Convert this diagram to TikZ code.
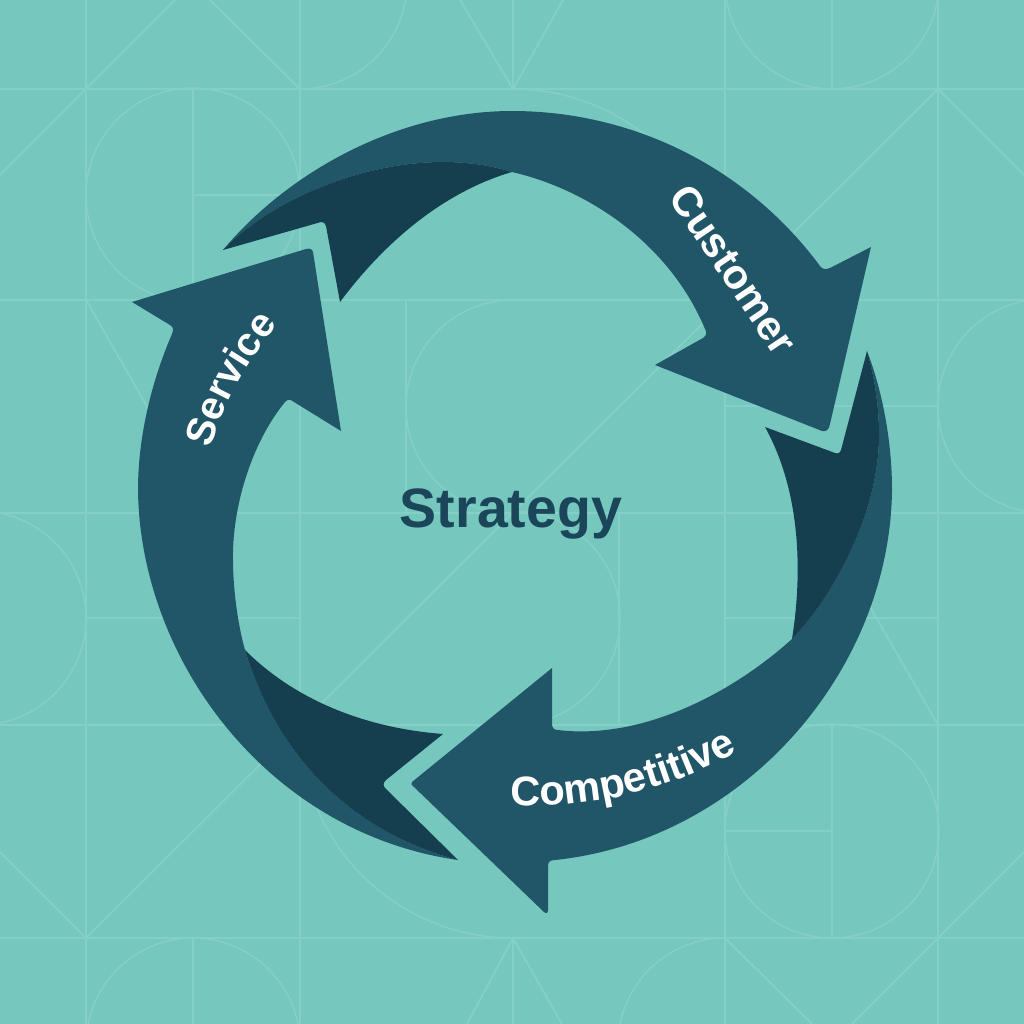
\documentclass[tikz,border=0pt]{standalone}
\usepackage{fontspec}
\setmainfont{Liberation Sans}
\usetikzlibrary{decorations.text}
\definecolor{bgc}{HTML}{76C8BF}
\definecolor{gridc}{HTML}{84CFC6}
\definecolor{midc}{HTML}{205668}
\definecolor{darkc}{HTML}{153E4F}
\definecolor{titlec}{HTML}{1B4558}
\tikzset{
  gl/.style={draw=gridc,line width=1.9pt},
  ga/.style={draw=gridc,line width=1.5pt},
  midpart/.style={fill=midc,draw=none},
  darkpart/.style={fill=darkc,draw=none}
}
\newcommand{\curvelabel}[3]{%
  \path[decorate,decoration={text along path,text color=white,text align={center},
     text={|\fontsize{#1}{#1}\selectfont\bfseries|#2}}] #3;}
\begin{document}
\begin{tikzpicture}[x=1pt,y=-1pt]
\useasboundingbox (0,0) rectangle (1024,1024);
\fill[bgc] (0,0) rectangle (1024,1024);
\begin{scope}
\clip (0,0) rectangle (1024,1024);
% grid
\foreach \p in {89,300,513,725,938} {\draw[gl] (0,\p) -- (1024,\p);}
\foreach \p in {86,300,725,938} {\draw[gl] (\p,0) -- (\p,1024);}
\draw[gl] (513,0) -- (513,89) (513,938) -- (513,1024);
\draw[gl] (193,89) -- (193,300) (193,195) -- (300,195);
\draw[gl] (406,300) -- (406,513);
\draw[gl] (725,406) -- (938,406);
\draw[gl] (86,618) -- (300,618);
\draw[gl] (619,513) -- (619,725) (725,618) -- (938,618);
\draw[gl] (832,0) -- (832,89) (832,725) -- (832,938) (725,831) -- (832,831);
\draw[gl] (193,938) -- (193,1024);
% diagonals
\draw[gl] (938,89) -- (86,938);
\draw[gl] (86,89) -- (0,175) (86,89) -- (177,-2) (208,-2) -- (300,89);
\draw[gl] (460,0) -- (513,89) -- (563,0);
\draw[gl] (938,89) -- (1024,175);
\draw[gl] (86,300) -- (208,513);
\draw[gl] (938,725) -- (816,513);
\draw[gl] (0,852) -- (86,938);
\draw[gl] (1024,852) -- (852,1024);
\draw[gl] (725,938) -- (812,1024);
\draw[gl] (467,1024) -- (513,938) -- (562,1024);
% circles and arcs
\draw[ga] (832,-18) circle[radius=107];
\draw[ga] (193,195) circle[radius=107];
\draw[ga] (832,831) circle[radius=107];
\draw[ga] (193,1045) circle[radius=107];
\draw[ga] (1045,406) circle[radius=107];
\draw[ga] (300,89) arc[start angle=90,end angle=0,radius=107];
\draw[ga] (513,89) arc[start angle=-90,end angle=0,radius=213];
\draw[ga] (513,300) arc[start angle=270,end angle=90,radius=107];
\draw[ga] (-21,511) arc[start angle=-90,end angle=90,radius=107];
\draw[ga] (513,511) arc[start angle=-90,end angle=90,radius=107];
\draw[ga] (300,725) arc[start angle=180,end angle=90,radius=213];
\draw[ga] (725,938) arc[start angle=-90,end angle=-180,radius=107];
\end{scope}
% Customer arrow
\fill[midpart] (223,250) .. controls (290,170) and (400,111) .. (512,111) .. controls (630,111) and (745,165) .. (820,266)
  .. controls (822,269) and (825,270) .. (830,268) -- (871,247) -- (830,424) .. controls (829,430) and (826,432) .. (822,431) -- (655,365) -- (703,338) .. controls (707,335) and (707,332) .. (705,329)
  .. controls (670,245) and (590,190) .. (512,172) .. controls (410,140) and (280,190) .. (223,250) -- cycle;
\fill[darkpart] (223,250) .. controls (280,190) and (410,140) .. (512,172)
  .. controls (450,190) and (390,235) .. (340,302) -- (326,226) .. controls (325,223) and (324,222) .. (321,222) -- cycle;
% Competitive arrow
\fill[midpart] (412,782) -- (552,668) -- (552,724) .. controls (552,728) and (554,730) .. (558,730)
  .. controls (640,740) and (730,695) .. (792,639) .. controls (835,595) and (880,510) .. (879,433) .. controls (879,405) and (874,375) .. (867,351)
  .. controls (882,390) and (892,440) .. (892,490) .. controls (890,670) and (745,840) .. (555,860)
  .. controls (550,860) and (548,862) .. (548,866) -- (548,910) .. controls (548,913) and (546,914) .. (544,912) -- (414,787) .. controls (411,785) and (411,783) .. (412,782) -- cycle;
\fill[darkpart] (867,351) .. controls (874,375) and (879,405) .. (879,433) .. controls (880,510) and (835,595) .. (792,639)
  .. controls (803,570) and (800,490) .. (765,427) -- (835,453) .. controls (838,454) and (840,453) .. (841,450) -- cycle;
% Service arrow
\fill[midpart] (132,302) -- (306,249) .. controls (310,248) and (312,249) .. (313,252) -- (341,431) -- (294,402) .. controls (290,399) and (288,399) .. (285,402)
  .. controls (250,445) and (232,510) .. (233,560) .. controls (233,590) and (238,625) .. (245,650)
  .. controls (275,750) and (345,830) .. (458,860) .. controls (268,833) and (140,660) .. (138,490) .. controls (138,440) and (150,385) .. (172,334)
  .. controls (174,329) and (173,327) .. (170,325) -- cycle;
\fill[darkpart] (245,650) .. controls (295,700) and (365,728) .. (443,734)
  -- (386,780) .. controls (383,783) and (383,785) .. (385,788) -- (458,860)
  .. controls (345,830) and (275,750) .. (245,650) -- cycle;
% Labels
\node[font=\fontsize{55.5}{60}\selectfont\bfseries,text=titlec,inner sep=0pt] (title) at (511,514) {Strategy};
\curvelabel{41.5}{Customer}{(671,203) .. controls (700,245) and (735,297) .. (772,352)}
\curvelabel{41.5}{Competitive}{(507,805) .. controls (590,810) and (670,790) .. (741,750)}
\curvelabel{40}{Service}{(212,444) .. controls (225,400) and (250,360) .. (275,328)}
\end{tikzpicture}
\end{document}
